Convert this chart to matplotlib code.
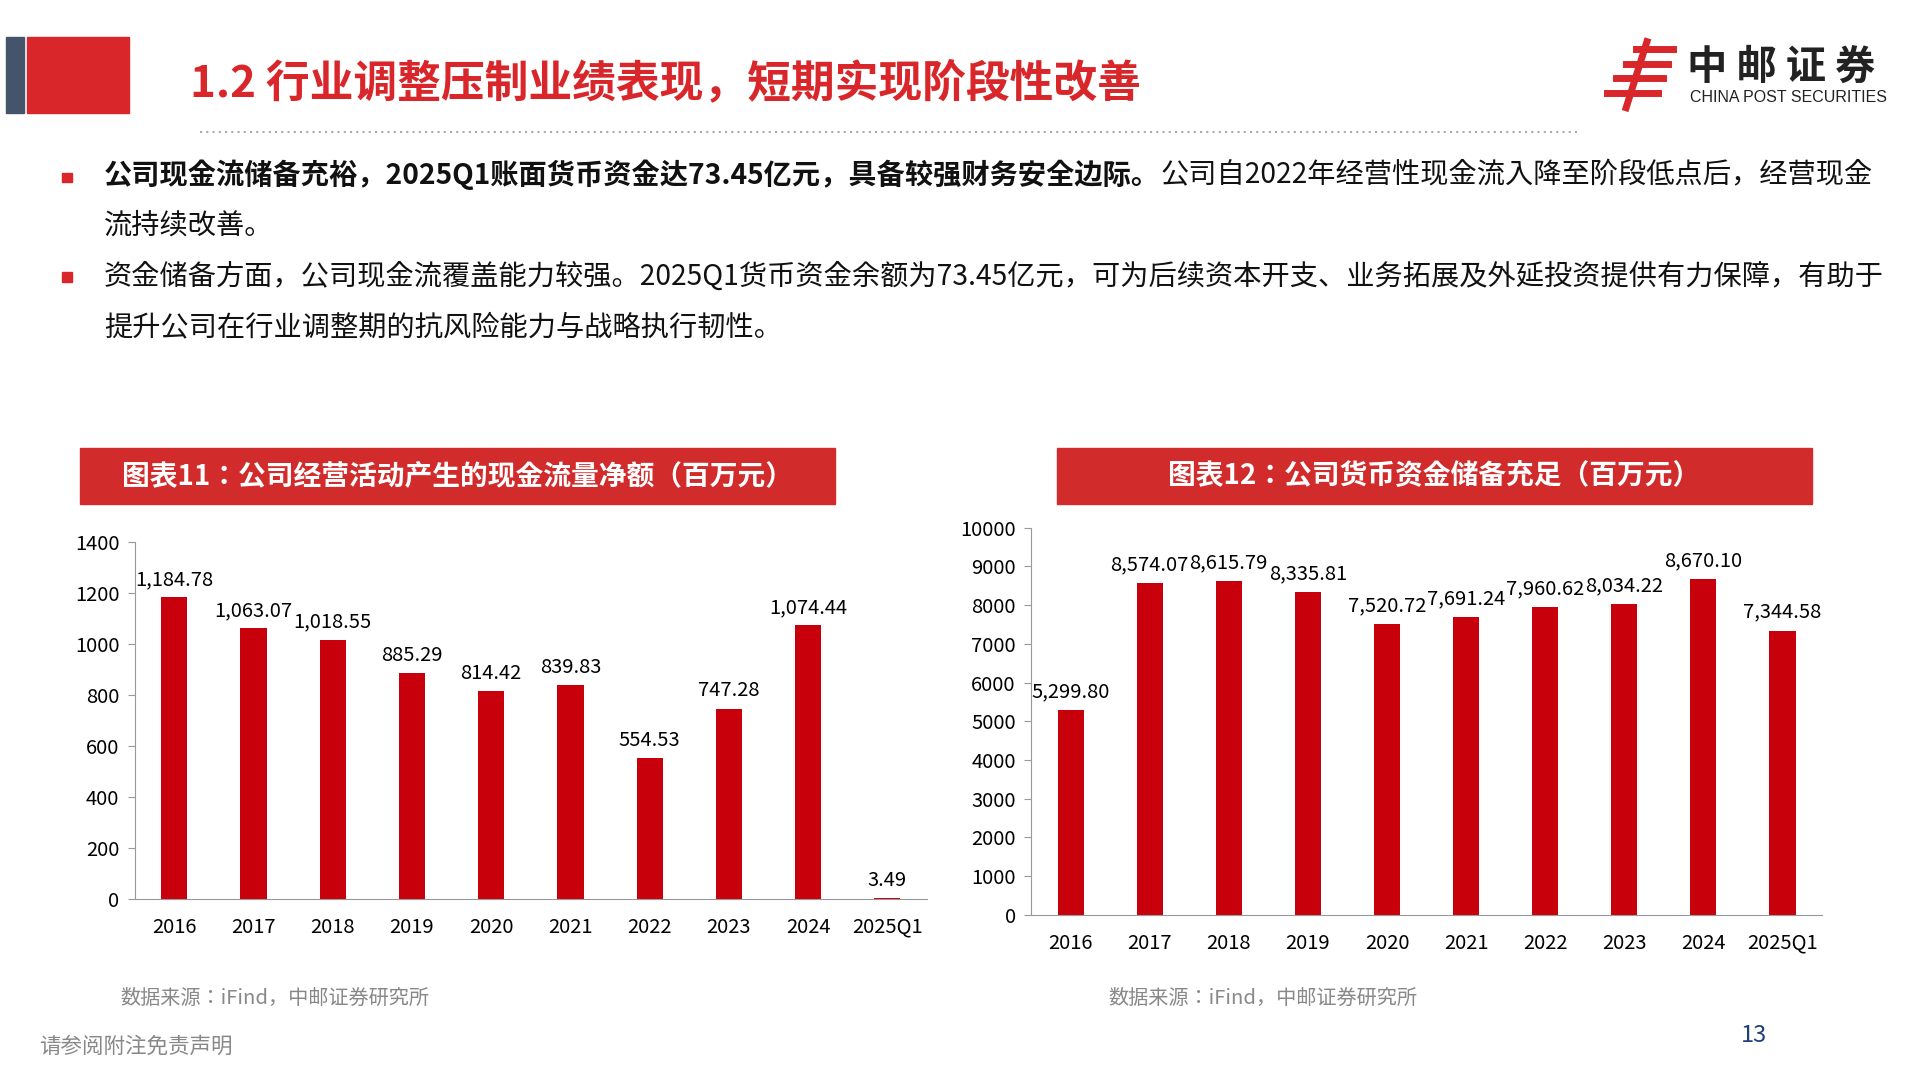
import matplotlib.pyplot as plt
from matplotlib.patches import Rectangle
from matplotlib import font_manager
import numpy as np

names = sorted({f.name for f in font_manager.fontManager.ttflist if "CJK" in f.name})
cjk = [n for n in names if "SC" in n] or names
plt.rcParams["font.family"] = "sans-serif"
plt.rcParams["font.sans-serif"] = cjk + ["Noto Sans CJK SC", "DejaVu Sans"]

years = ["2016", "2017", "2018", "2019", "2020", "2021", "2022", "2023", "2024", "2025Q1"]
op_cash = [1184.78, 1063.07, 1018.55, 885.29, 814.42, 839.83, 554.53, 747.28, 1074.44, 3.49]
money_funds = [5299.80, 8574.07, 8615.79, 8335.81, 7520.72, 7691.24, 7960.62, 8034.22, 8670.10, 7344.58]

RED = "#C8000B"
W, H = 1568, 882  # reference pixel grid


def fx(x):
    return x / W


def fy(y):
    return 1 - y / H


fig = plt.figure(figsize=(19.2, 10.8), dpi=100)

# header
fig.patches.append(Rectangle((fx(5), fy(92)), fx(15), 62 / H, color="#44546A", transform=fig.transFigure))
fig.patches.append(Rectangle((fx(22), fy(92)), fx(83), 62 / H, color="#D9262A", transform=fig.transFigure))
fig.text(fx(155), fy(68), "1.2 行业调整压制业绩表现，短期实现阶段性改善", color="#D9262A",
         fontsize=31.5, fontweight="bold", va="center")
fig.lines.append(plt.Line2D([fx(163), fx(1288)], [fy(108), fy(108)], transform=fig.transFigure,
                            color="#AAAAAA", lw=1.5, linestyle=(0, (1, 2))))

# logo
for i, dy in enumerate([40, 52, 64, 76]):
    fig.lines.append(plt.Line2D([fx(1312 + 8 * (3 - i)), fx(1366 - 4 * i)], [fy(dy), fy(dy)],
                                transform=fig.transFigure, color="#D9262A", lw=5))
fig.lines.append(plt.Line2D([fx(1345), fx(1328)], [fy(34), fy(88)], transform=fig.transFigure,
                            color="#D9262A", lw=5))
fig.text(fx(1378), fy(55), "中 邮 证 券", fontsize=29, fontweight="bold", color="#222222", va="center")
fig.text(fx(1380), fy(80), "CHINA POST SECURITIES", fontsize=11.5, color="#222222", va="center",
         family="Liberation Sans")

# bullets
fs = 20.3
for by in [145, 226]:
    fig.patches.append(Rectangle((fx(51), fy(by + 4)), fx(8), 8 / H, color="#D9262A",
                                 transform=fig.transFigure))
t1 = fig.text(fx(85), fy(143), "公司现金流储备充裕，2025Q1账面货币资金达73.45亿元，具备较强财务安全边际。",
              fontsize=fs, fontweight="bold", va="center", color="#111111")
fig.canvas.draw()
bb = t1.get_window_extent()
fig.text(bb.x1 / fig.bbox.width, fy(143), "公司自2022年经营性现金流入降至阶段低点后，经营现金",
         fontsize=fs, va="center", color="#111111")
fig.text(fx(85), fy(184), "流持续改善。", fontsize=fs, va="center", color="#111111")
fig.text(fx(85), fy(226), "资金储备方面，公司现金流覆盖能力较强。2025Q1货币资金余额为73.45亿元，可为后续资本开支、业务拓展及外延投资提供有力保障，有助于",
         fontsize=fs, va="center", color="#111111")
fig.text(fx(85), fy(267), "提升公司在行业调整期的抗风险能力与战略执行韧性。", fontsize=fs, va="center", color="#111111")


def header(x0, x1, title):
    fig.patches.append(Rectangle((fx(x0), fy(412)), fx(x1 - x0), 46 / H, color="#D22B2B",
                                 transform=fig.transFigure))
    fig.text(fx((x0 + x1) / 2), fy(389), title, color="white", fontsize=20, fontweight="bold",
             ha="center", va="center")


def bars(rect, vals, ymax, step):
    l, r, b, t = rect
    ax = fig.add_axes([fx(l), fy(b), fx(r - l), (b - t) / H])
    x = np.arange(len(years))
    ax.bar(x, vals, width=0.33, color=RED)
    for xi, v in zip(x, vals):
        ax.text(xi, v + ymax * 0.02, f"{v:,.2f}", ha="center", va="bottom", fontsize=14.5)
    ax.set_xlim(-0.5, len(years) - 0.5)
    ax.set_ylim(0, ymax)
    ax.set_yticks(np.arange(0, ymax + 1, step))
    ax.set_xticks(x, years)
    ax.tick_params(axis="x", labelsize=14.5, length=0, pad=13)
    ax.tick_params(axis="y", labelsize=14.5, length=5, pad=6, color="#999999", direction="out")
    for s in ["top", "right"]:
        ax.spines[s].set_visible(False)
    for s in ["left", "bottom"]:
        ax.spines[s].set_color("#999999")
    return ax


header(65, 682, "图表11：公司经营活动产生的现金流量净额（百万元）")
header(863, 1480, "图表12：公司货币资金储备充足（百万元）")
bars((110, 757, 734, 443), op_cash, 1400, 200)
bars((842, 1488, 747, 431), money_funds, 10000, 1000)

fig.text(fx(98), fy(815), "数据来源：iFind，中邮证券研究所", fontsize=14.5, color="#888888", va="center")
fig.text(fx(905), fy(815), "数据来源：iFind，中邮证券研究所", fontsize=14.5, color="#888888", va="center")
fig.text(fx(32), fy(855), "请参阅附注免责声明", fontsize=15.5, color="#888888", va="center")
fig.text(fx(1422), fy(846), "13", fontsize=17, color="#1F3F7A", va="center")

fig.savefig("out.png", dpi=100)
